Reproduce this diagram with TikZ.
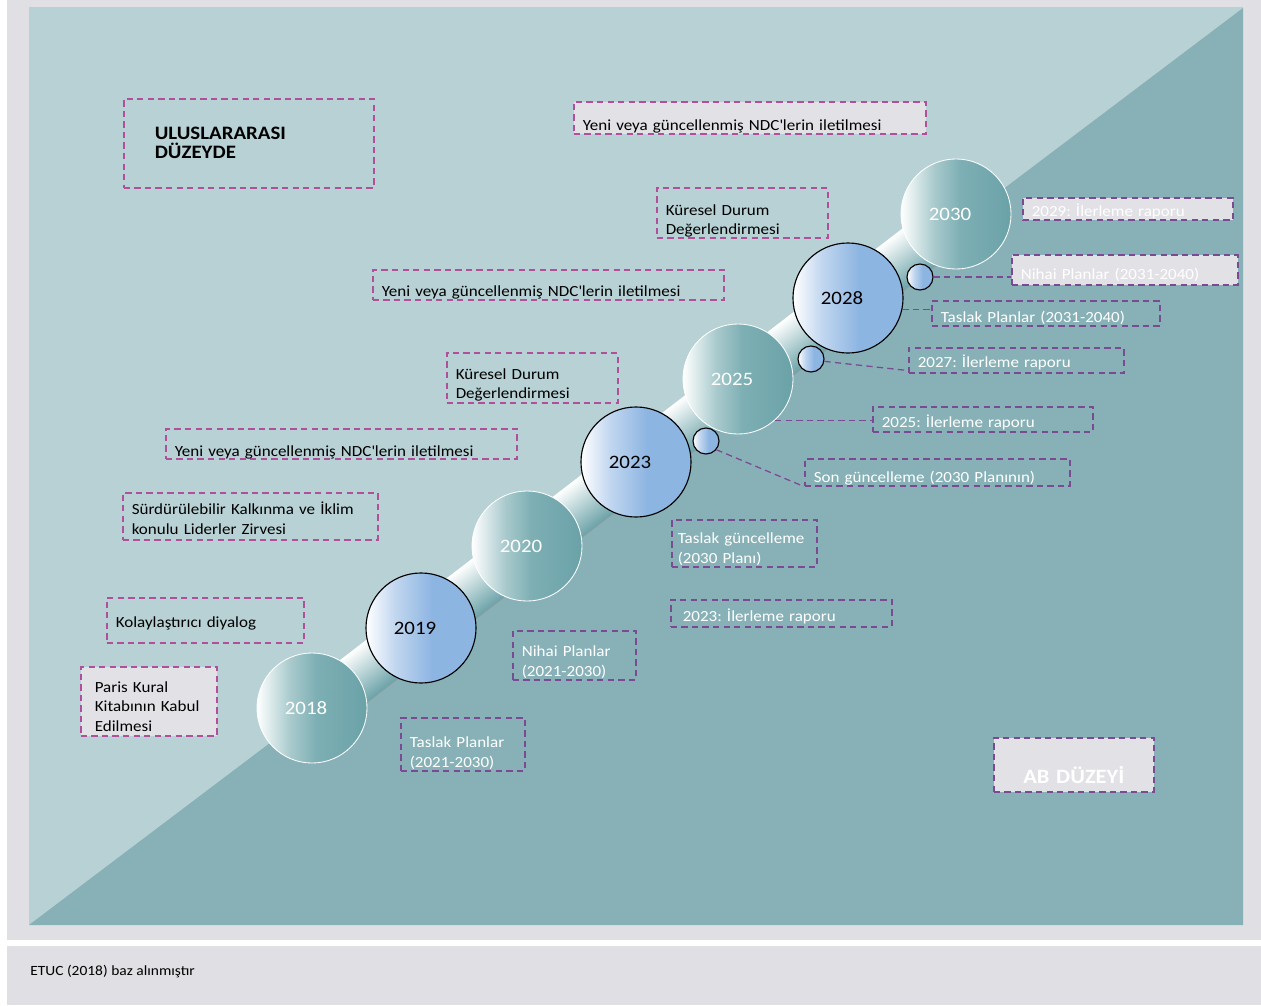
\documentclass[tikz,border=0pt]{standalone}
\usepackage{fontspec}
\setmainfont{Carlito}[FakeStretch=1.1]
\usetikzlibrary{positioning, calc}
\frenchspacing

\definecolor{framegray}{HTML}{E0DFE4}
\definecolor{panellight}{HTML}{B7D1D4}
\definecolor{paneldark}{HTML}{87B1B7}
\definecolor{boxgray}{HTML}{E2E1E6}
\definecolor{intlpink}{HTML}{B0509A}
\definecolor{eupurple}{HTML}{7A4A93}
\definecolor{tealA}{HTML}{A9CACD}
\definecolor{tealB}{HTML}{7DAFB4}
\definecolor{tealC}{HTML}{6AA2A8}
\definecolor{blueA}{HTML}{C2D7F0}
\definecolor{blueB}{HTML}{8DB5E2}
\definecolor{bandline}{HTML}{8A9EA1}

\pgfdeclarehorizontalshading{tealball}{100bp}{color(0bp)=(white); color(25bp)=(white); color(40bp)=(tealA); color(52bp)=(tealB); color(75bp)=(tealC); color(100bp)=(tealC)}
\pgfdeclarehorizontalshading{blueball}{100bp}{color(0bp)=(white); color(25bp)=(white); color(38bp)=(blueA); color(55bp)=(blueB); color(75bp)=(blueB); color(100bp)=(blueB)}

\begin{document}
\begin{tikzpicture}[x=0.025cm, y=-0.025cm,
  % ---- styles ----
  box/.style = {
    draw, dash pattern=on 4.5pt off 3pt, line width=1.1pt,
    anchor=north west, align=left,
    inner xsep=0.225cm, inner ysep=0pt,
    font=\fontsize{11}{13.8}\selectfont
  },
  drop/.style = {text height=#1, text depth=0pt},
  twolines/.style = {text depth=13.8pt},
  intlbox/.style = {box, draw=intlpink, text=black},
  eubox/.style = {box, draw=eupurple, text=white},
  grayed/.style = {fill=boxgray},
  year/.style = {
    circle, minimum size=2.75cm, inner sep=0,
    font=\fontsize{13.5}{16}\selectfont,
    execute at begin node={\kern-0.3cm}
  },
  tealyear/.style = {year, shade, shading=tealball, draw=white, line width=0.6pt, text=white},
  blueyear/.style = {year, shade, shading=blueball, draw=black, line width=0.8pt, text=black},
  dot/.style = {circle, minimum size=0.65cm, inner sep=0, shade, shading=blueball, draw=black, line width=0.8pt},
  link/.style = {draw=eupurple, dash pattern=on 4.5pt off 3pt, line width=0.9pt}
]

% ============ BACKGROUND ============
\useasboundingbox (0,0) rectangle (1261,1005);
\fill[white] (0,0) rectangle (1261,1005);
\fill[framegray] (7,0) rectangle (1261,940);
\fill[framegray] (7,946) rectangle (1261,1005);
\fill[panellight] (29,7) rectangle (1243,925);
\fill[paneldark] (29,925) -- (1243,8) -- (1243,925) -- cycle;

% --- tube ---
\begin{scope}[transform canvas={shift={(312,708)}, rotate=37.5}]
  \shade[top color=white, middle color=tealA, bottom color=tealC] (0,-21) rectangle (812,29);
  \draw[bandline, line width=0.6pt] (0,29) -- (812,29);
\end{scope}

% ============ YEARS ============
\node[tealyear] (y2018) at (312,708) {2018};
\node[blueyear] (y2019) at (421,628) {2019};
\node[tealyear] (y2020) at (527,546) {2020};
\node[blueyear] (y2023) at (636,462) {2023};
\node[tealyear] (y2025) at (738,379) {2025};
\node[blueyear] (y2028) at (848,298) {2028};
\node[tealyear] (y2030) at (956,214) {2030};

\node[dot] (dot1) at (920,277) {};
\node[dot] (dot2) at (811,359) {};
\node[dot] (dot3) at (706,441) {};

% ============ INTERNATIONAL LEVEL ============
\node[intlbox, inner xsep=0.775cm, text width=4.7cm, minimum height=2.225cm,
      font=\fontsize{13.5}{13.5}\selectfont\bfseries] (intl) at (123,98) {ULUSLARARASI\\DÜZEYDE};
\node[intlbox, grayed, drop=17.6pt, text width=8.35cm, minimum height=0.8cm] (ndctop) at (573,101)
  {Yeni veya güncellenmiş NDC\textquotesingle lerin iletilmesi};
\node[intlbox, drop=17.6pt, twolines, text width=3.825cm, minimum height=1.25cm] (gst2028) at (656,187)
  {Küresel Durum\\Değerlendirmesi};
\node[intlbox, drop=16.2pt, text width=8.325cm, minimum height=0.75cm] (ndcmid) at (372,269)
  {Yeni veya güncellenmiş NDC\textquotesingle lerin iletilmesi};
\node[intlbox, drop=16.2pt, twolines, text width=3.825cm, minimum height=1.25cm] (gst2023) at (446,352)
  {Küresel Durum\\Değerlendirmesi};
\node[intlbox, drop=17.6pt, text width=8.325cm, minimum height=0.75cm] (ndclow) at (165,428)
  {Yeni veya güncellenmiş NDC\textquotesingle lerin iletilmesi};
\node[intlbox, drop=11.9pt, twolines, text width=5.925cm, minimum height=1.175cm] (summit) at (122,492)
  {Sürdürülebilir Kalkınma ve İklim\\konulu Liderler Zirvesi};
\node[intlbox, drop=10.5pt, text width=4.475cm, minimum height=1.125cm] (dialog) at (106,597)
  {Kolaylaştırıcı diyalog};
\node[intlbox, grayed, drop=14.7pt, text depth=27.6pt, inner xsep=0.35cm, text width=2.7cm,
      minimum height=1.725cm] (paris) at (80,666) {Paris Kural\\Kitabının Kabul\\Edilmesi};

% ============ EU LEVEL ============
\node[eubox, drop=19pt, twolines, text width=2.65cm, minimum height=1.325cm] (draft21) at (400,717)
  {Taslak Planlar\\(2021-2030)};
\node[eubox, drop=16.2pt, twolines, text width=2.625cm, minimum height=1.225cm] (final21) at (512,630)
  {Nihai Planlar\\(2021-2030)};
\node[eubox, drop=14.7pt, twolines, inner xsep=0.15cm, text width=3.325cm, minimum height=1.175cm] (draftupd) at (671,519)
  {Taslak güncelleme\\(2030 Planı)};
\node[eubox, drop=11.9pt, inner xsep=0.3cm, text width=4.925cm, minimum height=0.675cm] (rep2023) at (670,599)
  {2023: İlerleme raporu};
\node[eubox, drop=14.7pt, text width=6.175cm, minimum height=0.675cm] (lastupd) at (804,458)
  {Son güncelleme (2030 Planının)};
\node[eubox, drop=11.9pt, text width=5.05cm, minimum height=0.625cm] (rep2025) at (872,406)
  {2025: İlerleme raporu};
\node[eubox, drop=10.5pt, text width=4.925cm, minimum height=0.625cm] (rep2027) at (908,347)
  {2027: İlerleme raporu};
\node[eubox, drop=13.3pt, text width=5.25cm, minimum height=0.625cm] (draft31) at (931,300)
  {Taslak Planlar (2031-2040)};
\node[eubox, grayed, drop=13.3pt, text width=5.2cm, minimum height=0.75cm] (final31) at (1011,254)
  {Nihai Planlar (2031-2040)};
\node[eubox, grayed, drop=10.5pt, text width=4.8cm, minimum height=0.55cm] (rep2029) at (1022,197)
  {2029: İlerleme raporu};
\node[eubox, grayed, text height=0.95cm, align=center, text width=3.55cm, minimum height=1.35cm,
      font=\fontsize{14.5}{16}\selectfont\bfseries] (eulevel) at (993,737) {AB DÜZEYİ};

% ============ LINKS ============
\draw[link] (dot1.east) -- (dot1.east -| final31.west);
\draw[link] (y2028.-12) -- (y2028.-12 -| draft31.west);
\draw[link] (dot2.-10) -- ([yshift=0.075cm]rep2027.south west);
\draw[link] (y2025.-48) -- (y2025.-48 -| rep2025.west);
\draw[link] (dot3.-40) -- (lastupd.south west);

% --- source ---
\node[anchor=west, inner sep=0, font=\fontsize{10}{12}\selectfont] (source) at (30,972) {ETUC (2018) baz alınmıştır};

\end{tikzpicture}
\end{document}
